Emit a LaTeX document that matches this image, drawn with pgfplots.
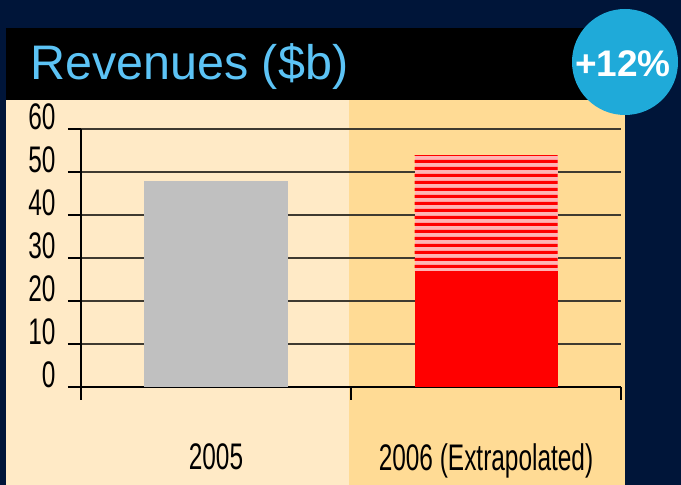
\documentclass[border=0pt]{standalone}
\usepackage{pgfplots}
\pgfplotsset{compat=1.18}
\usepackage{fontspec}
\setmainfont{Liberation Sans}
\newfontfamily\tickfont{Liberation Sans}[FakeStretch=0.66]
\usetikzlibrary{patterns.meta}
\definecolor{navy}{HTML}{001539}
\definecolor{panelL}{HTML}{FFEAC6}
\definecolor{panelR}{HTML}{FFDB95}
\definecolor{circ}{HTML}{1FAAD9}
\definecolor{titleblue}{HTML}{5CC3F5}
\definecolor{barGray}{HTML}{C0C0C0}
\definecolor{gridc}{HTML}{3F3A30}
\definecolor{pinkish}{HTML}{FFB4B4}
\tikzdeclarepattern{
  name=hstripes,
  type=uncolored,
  bounding box={(0pt,0pt) and (200pt,7pt)},
  tile size={(200pt,7pt)},
  code={\fill (0pt,0pt) rectangle (200pt,3.6pt);}
}
\begin{document}
\begin{tikzpicture}[x=1pt,y=1pt]
\fill[navy] (0,0) rectangle (681,485);
\fill[black] (6,385) rectangle (625,457);
\fill[panelL] (6,0) rectangle (349,385);
\fill[panelR] (349,0) rectangle (625,385);
\node[anchor=base west, text=titleblue, inner sep=0pt, font=\fontsize{48.5}{48.5}\selectfont] at (30,405) {Revenues (\$b)};
\begin{axis}[
  at={(81pt,98pt)}, anchor=south west,
  width=540pt, height=258pt, scale only axis,
  ybar stacked, bar width=143pt,
  xmin=-0.5, xmax=1.5, ymin=0, ymax=60,
  ytick={0,10,...,60},
  xtick={-0.5,0.5,1.5}, xticklabels={},
  axis x line*=bottom, axis y line*=left,
  axis line style={black, line width=1.5pt, -},
  tick align=outside, major tick length=13pt,
  tick style={black, line width=1.2pt},
  ymajorgrids, grid style={color=gridc, line width=1.2pt},
  /pgf/number format/assume math mode=true,
  typeset ticklabels with strut,
  yticklabel style={font=\tickfont\fontsize{37}{37}\selectfont, yshift=7pt, xshift=-9pt},
  xticklabel style={font=\tickfont\fontsize{37}{37}\selectfont},
  extra x ticks={0,1},
  extra x tick labels={2005,2006 (Extrapolated)},
  extra x tick style={major tick length=0pt, grid=none, xticklabel style={yshift=-53pt}},
]
\addplot[fill=barGray, draw=none] coordinates {(0,48) (1,0)};
\addplot[fill=red, draw=none] coordinates {(0,0) (1,26.9)};
\addplot[fill=pinkish, draw=none, postaction={pattern=hstripes, pattern color=red}] coordinates {(0,0) (1,26.9)};
\end{axis}
\fill[circ] (625,423) circle (53);
\node[anchor=base, text=white, inner sep=0pt, font=\bfseries\fontsize{37}{37}\selectfont] at (623,408) {+12\%};
\end{tikzpicture}
\end{document}
